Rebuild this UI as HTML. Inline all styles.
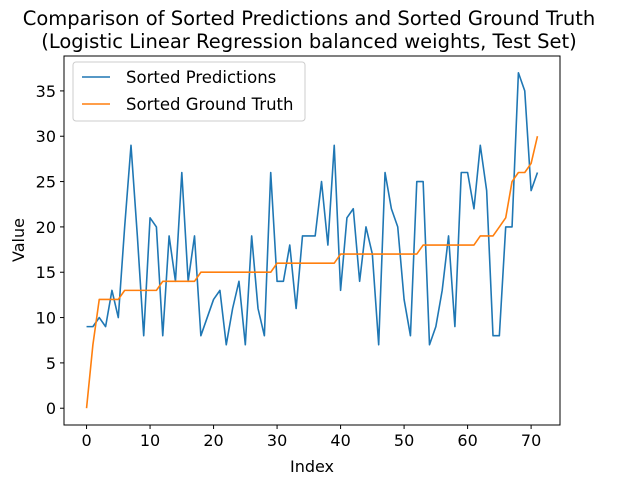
<!DOCTYPE html>
<html><head><meta charset="utf-8"><style>
body{margin:0;background:#fff}
svg text{font-family:"DejaVu Sans","Liberation Sans",sans-serif;fill:#000}
</style></head><body>
<svg id="chart" width="620" height="486">
<text x="309" y="25" font-size="19.5" text-anchor="middle">Comparison of Sorted Predictions and Sorted Ground Truth</text>
<text x="309" y="48" font-size="19.5" text-anchor="middle">(Logistic Linear Regression balanced weights, Test Set)</text>
<g id="axes"></g>
<text x="312" y="472" font-size="16" text-anchor="middle">Index</text>
<text x="24" y="240" font-size="16" text-anchor="middle" transform="rotate(-90 24 240)">Value</text>
<g>
<rect x="73" y="62" width="232" height="59" rx="3" fill="#fff" stroke="#ccc"/>
<line x1="82" y1="77" x2="110" y2="77" stroke="#1f77b4" stroke-width="1.6"/>
<text x="126" y="83" font-size="16.5">Sorted Predictions</text>
<line x1="82" y1="104" x2="110" y2="104" stroke="#ff7f0e" stroke-width="1.6"/>
<text x="126" y="110" font-size="16.5">Sorted Ground Truth</text>
</g>
</svg>
<script>
const predictions=[9,9,10,9,13,10,20,29,19,8,21,20,8,19,14,26,14,19,8,10,12,13,7,11,14,7,19,11,8,26,14,14,18,11,19,19,19,25,18,29,13,21,22,14,20,17,7,26,22,20,12,8,25,25,7,9,13,19,9,26,26,22,29,24,8,8,20,20,37,35,24,26];
const groundTruth=[0,7,12,12,12,12,13,13,13,13,13,13,14,14,14,14,14,14,15,15,15,15,15,15,15,15,15,15,15,15,16,16,16,16,16,16,16,16,16,16,17,17,17,17,17,17,17,17,17,17,17,17,17,18,18,18,18,18,18,18,18,18,19,19,19,20,21,25,26,26,27,30];
const xTicks=[0,10,20,30,40,50,60,70];
const yTicks=[0,5,10,15,20,25,30,35];
const L=64,R=560,T=56,B=425,x0=-3.55,x1=74.55,y0=-1.85,y1=38.85;
const sx=v=>L+(v-x0)/(x1-x0)*(R-L);
const sy=v=>B-(v-y0)/(y1-y0)*(B-T);
const NS="http://www.w3.org/2000/svg";
const g=document.getElementById('axes');
function mk(t,a){const e=document.createElementNS(NS,t);for(const k in a)e.setAttribute(k,a[k]);g.appendChild(e);return e;}
function line(data,color,name){
  const p=mk('polyline',{points:data.map((v,i)=>sx(i)+','+sy(v)).join(' '),fill:'none',stroke:color,'stroke-width':1.6,'stroke-linejoin':'round'});
  
  
}
line(predictions,'#1f77b4','predictions-line');
line(groundTruth,'#ff7f0e','ground-truth-line');
const frame=mk('rect',{x:L,y:T,width:R-L,height:B-T,fill:'none',stroke:'#000','stroke-width':1});


xTicks.forEach(v=>{
  const tk=mk('line',{x1:sx(v),y1:B,x2:sx(v),y2:B+4,stroke:'#000'});
  
  
  const t=mk('text',{x:sx(v),y:B+21,'font-size':16,'text-anchor':'middle'});t.textContent=v;
  
  
});
yTicks.forEach(v=>{
  const tk=mk('line',{x1:L-4,y1:sy(v),x2:L,y2:sy(v),stroke:'#000'});
  
  
  const t=mk('text',{x:L-8,y:sy(v)+6,'font-size':16,'text-anchor':'end'});t.textContent=v;
  
  
});
</script>
</body></html>
